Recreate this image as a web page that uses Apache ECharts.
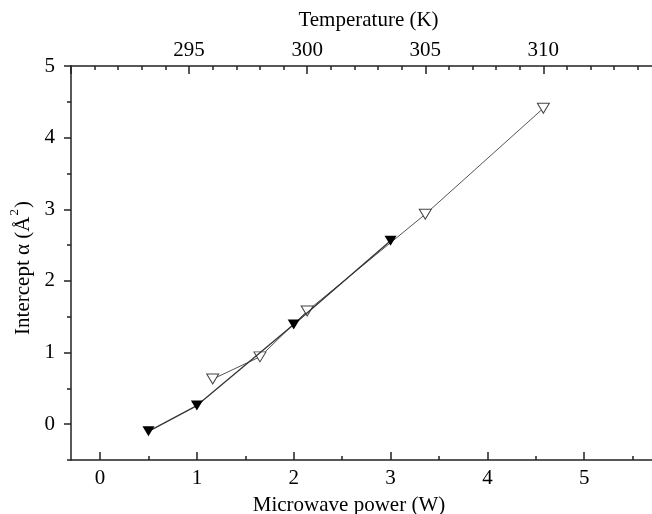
<!DOCTYPE html>
<html>
<head>
<meta charset="utf-8">
<script src="https://cdn.jsdelivr.net/npm/echarts@6/dist/echarts.min.js"></script>
<style>
html,body{margin:0;padding:0;background:#fff;}
#chart{width:652px;height:514px;}
</style>
</head>
<body>
<div id="chart"></div>
<script>
// Data
var powerW = [0.5, 1, 2, 3];
var interceptByPower = [-0.1, 0.26, 1.39, 2.56];
var temperatureK = [296, 298, 300, 305, 310];
var interceptByTemp = [0.63, 0.94, 1.58, 2.93, 4.41];

// Tick labels / positions
var powerTicks = [0, 1, 2, 3, 4, 5];
var powerMinorTicks = [0.5, 1.5, 2.5, 3.5, 4.5, 5.5];
var tempLabels = [295, 300, 305, 310];
var tempTicks = [290, 295, 300, 305, 310];
var tempMinorTicks = [291, 292, 293, 294, 296, 297, 298, 299, 301, 302, 303, 304, 306, 307, 308, 309, 311, 312, 313, 314];
var yTicks = [0, 1, 2, 3, 4, 5];
var yMinorTicks = [-0.5, 0.5, 1.5, 2.5, 3.5, 4.5];

var FONT = 'Liberation Serif';
var axisColor = '#222';
var triDown = 'path://M0,0L12,0L6,10Z';

function pairs(xs, ys) { return xs.map(function (x, i) { return [x, ys[i]]; }); }

var chart = echarts.init(document.getElementById('chart'), null, {renderer: 'canvas'});
var option = {
  backgroundColor: '#fff',
  animation: false,
  grid: {left: 71, right: 0, top: 66, bottom: 54, containLabel: false, outerBoundsMode: 'none'},
  xAxis: [
    {
      type: 'value', position: 'bottom', min: -0.3, max: 5.7,
      name: 'Microwave power (W)', nameLocation: 'middle', nameGap: 35,
      nameTextStyle: {fontFamily: FONT, fontSize: 21, color: '#000', padding: [0, 25, 0, 0]},
      axisLine: {show: true, onZero: false, lineStyle: {color: axisColor, width: 1.5}},
      axisTick: {show: true, inside: true, length: 8, customValues: powerTicks, lineStyle: {color: axisColor, width: 1.5}},
      axisLabel: {show: true, customValues: powerTicks, margin: 8, fontFamily: FONT, fontSize: 21, color: '#000'},
      splitLine: {show: false}
    },
    {
      type: 'value', position: 'bottom', min: -0.3, max: 5.7,
      axisLine: {show: false, onZero: false},
      axisTick: {show: true, inside: true, length: 4, customValues: powerMinorTicks, lineStyle: {color: axisColor, width: 1.5}},
      axisLabel: {show: false},
      splitLine: {show: false}
    },
    {
      type: 'value', position: 'top', min: 290, max: 314.6,
      name: 'Temperature (K)', nameLocation: 'middle', nameGap: 35,
      nameTextStyle: {fontFamily: FONT, fontSize: 21, color: '#000', padding: [0, 0, 0, 14]},
      axisLine: {show: true, onZero: false, lineStyle: {color: axisColor, width: 1.5}},
      axisTick: {show: true, inside: true, length: 8, customValues: tempTicks, lineStyle: {color: axisColor, width: 1.5}},
      axisLabel: {show: true, customValues: tempLabels, margin: 5, fontFamily: FONT, fontSize: 21, color: '#000'},
      splitLine: {show: false}
    },
    {
      type: 'value', position: 'top', min: 290, max: 314.6,
      axisLine: {show: false, onZero: false},
      axisTick: {show: true, inside: true, length: 4, customValues: tempMinorTicks, lineStyle: {color: axisColor, width: 1.5}},
      axisLabel: {show: false},
      splitLine: {show: false}
    }
  ],
  yAxis: [
    {
      type: 'value', position: 'left', min: -0.5, max: 5,
      name: '{a|Intercept α (Å}{sup|2}{a|)}', nameLocation: 'middle', nameGap: 37,
      nameTextStyle: {fontFamily: FONT, fontSize: 21, color: '#000', padding: [0, 10, 0, 0],
        rich: {
          a: {fontFamily: FONT, fontSize: 21, color: '#000', lineHeight: 22, verticalAlign: 'bottom'},
          sup: {fontFamily: FONT, fontSize: 13, color: '#000', lineHeight: 12, verticalAlign: 'bottom', padding: [0, 1, 13, 1]}
        }},
      axisLine: {show: true, onZero: false, lineStyle: {color: axisColor, width: 1.5}},
      axisTick: {show: true, inside: false, length: 7, customValues: yTicks, lineStyle: {color: axisColor, width: 1.5}},
      axisLabel: {show: true, customValues: yTicks, margin: 16, fontFamily: FONT, fontSize: 21, color: '#000'},
      splitLine: {show: false}
    },
    {
      type: 'value', position: 'left', min: -0.5, max: 5,
      axisLine: {show: false, onZero: false},
      axisTick: {show: true, inside: false, length: 4, customValues: yMinorTicks, lineStyle: {color: axisColor, width: 1.5}},
      axisLabel: {show: false},
      splitLine: {show: false}
    }
  ],
  series: [
    {
      name: 'power', type: 'line', xAxisIndex: 0, yAxisIndex: 0,
      data: pairs(powerW, interceptByPower),
      symbol: triDown, symbolSize: [12, 10],
      itemStyle: {color: '#000', borderWidth: 0},
      lineStyle: {color: '#333', width: 1.3},
      z: 3
    },
    {
      name: 'temperature', type: 'line', xAxisIndex: 2, yAxisIndex: 0,
      data: pairs(temperatureK, interceptByTemp),
      symbol: triDown, symbolSize: [12, 10],
      itemStyle: {color: '#fff', borderColor: '#444', borderWidth: 1},
      lineStyle: {color: '#555', width: 1},
      z: 2
    }
  ]
};
chart.setOption(option);
</script>
</body>
</html>
